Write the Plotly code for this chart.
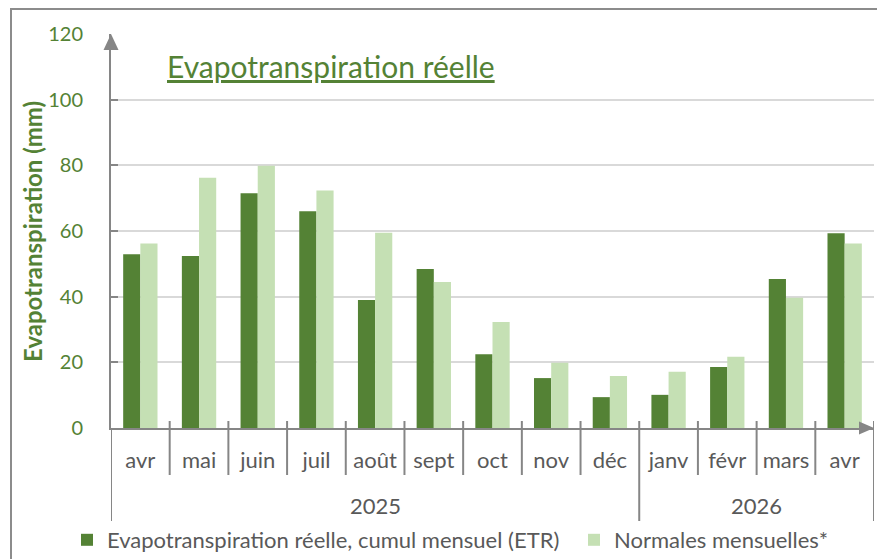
import plotly.graph_objects as go

months = ["avr", "mai", "juin", "juil", "août", "sept", "oct", "nov", "déc",
          "janv", "févr", "mars", "avr"]
years = ["2025"] * 9 + ["2026"] * 4
etr = [52.9, 52.4, 71.5, 66.0, 39.0, 48.4, 22.5, 15.2, 9.4, 10.1, 18.6, 45.4, 59.3]
normales = [56.2, 76.2, 79.9, 72.3, 59.5, 44.5, 32.3, 19.9, 15.8, 17.1, 21.7, 39.7, 56.2]
y_ticks = [0, 20, 40, 60, 80, 100, 120]

GREEN = "#548235"
LIGHT = "#c5e0b4"
GREY = "#868686"
TXT = "#595959"
FONT = "Lato"

OFF = 8  # default page body margin
W, H = 885 - OFF, 559 - OFF
PL, PR, PT, PB = 111, 874, 34, 428  # plot area in screen pixels
ML, MR, MT, MB = PL - OFF, 885 - PR, PT - OFF, 559 - PB
PW, PH = PR - PL, PB - PT

def px_x(p):  # screen pixel -> paper x
    return (p - PL) / PW

def px_y(p):  # screen pixel -> paper y
    return (PB - p) / PH

x = list(range(len(months)))

fig = go.Figure()
fig.add_trace(go.Bar(x=x, y=etr, name="Evapotranspiration réelle, cumul mensuel (ETR)",
                     marker=dict(color=GREEN, line=dict(width=0)), legend="legend"))
fig.add_trace(go.Bar(x=x, y=normales, name="Normales mensuelles*",
                     marker=dict(color=LIGHT, line=dict(width=0)), legend="legend2"))

shapes = []
# month dividers
for k in range(1, len(months)):
    if years[k] != years[k - 1]:
        continue
    shapes.append(dict(type="line", xref="x", yref="paper", x0=k - 0.5, x1=k - 0.5,
                       y0=px_y(421), y1=px_y(475), line=dict(color=GREY, width=2)))
# year dividers
bounds = [-0.5] + [k - 0.5 for k in range(1, len(months)) if years[k] != years[k - 1]] + [len(months) - 0.5]
for b in bounds:
    shapes.append(dict(type="line", xref="x", yref="paper", x0=b, x1=b,
                       y0=px_y(421) if b > -0.5 else 0, y1=px_y(521),
                       line=dict(color=GREY, width=2)))
# axis arrows
shapes.append(dict(type="path", xref="paper", yref="paper",
                   path=f"M 0 1 L {-7.5/PW} {1-16/PH} L {7.5/PW} {1-16/PH} Z",
                   fillcolor=GREY, line=dict(width=0)))
shapes.append(dict(type="path", xref="paper", yref="paper",
                   path=f"M 1 0 L {1-15/PW} {6.5/PH} L {1-15/PW} {-6.5/PH} Z",
                   fillcolor=GREY, line=dict(width=0)))
# outer frame
shapes.append(dict(type="rect", xref="paper", yref="paper",
                   x0=px_x(11), x1=px_x(905), y0=px_y(9), y1=px_y(580),
                   line=dict(color="#8c8c8c", width=2), fillcolor="rgba(0,0,0,0)"))

annotations = []
# year labels
for yr in sorted(set(years)):
    idx = [i for i, v in enumerate(years) if v == yr]
    annotations.append(dict(x=sum(idx) / len(idx), y=px_y(505), xref="x", yref="paper",
                            text=yr, showarrow=False, xanchor="center", yanchor="middle",
                            font=dict(family=FONT, size=22, color=TXT)))
annotations.append(dict(x=px_x(165), y=px_y(66), xref="paper", yref="paper",
                        text="<u>Evapotranspiration réelle</u>", showarrow=False,
                        xanchor="left", yanchor="middle",
                        font=dict(family=FONT, size=30, color=GREEN)))
annotations.append(dict(x=px_x(32), y=px_y(232), xref="paper", yref="paper",
                        text="<b>Evapotranspiration (mm)</b>", showarrow=False,
                        textangle=-90, xanchor="center", yanchor="middle",
                        font=dict(family=FONT, size=24, color=GREEN)))

legend_common = dict(orientation="h", xanchor="left", yanchor="middle",
                     font=dict(family=FONT, size=22, color=TXT),
                     bgcolor="rgba(0,0,0,0)", itemclick=False, itemdoubleclick=False)

fig.update_layout(
    width=W, height=H,
    margin=dict(l=ML, r=MR, t=MT, b=MB, autoexpand=False),
    paper_bgcolor="white", plot_bgcolor="white",
    barmode="group", bargap=0.415, bargroupgap=0,
    showlegend=True,
    legend=dict(x=px_x(67), y=px_y(540), **legend_common),
    legend2=dict(x=px_x(574), y=px_y(540), **legend_common),
    shapes=shapes, annotations=annotations,
    font=dict(family=FONT),
)
fig.update_xaxes(range=[-0.5, len(months) - 0.5], tickvals=x, ticktext=months,
                 showline=True, linecolor=GREY, linewidth=2, ticks="", showgrid=False,
                 zeroline=False, tickfont=dict(family=FONT, size=22, color=TXT),
                 ticklabelstandoff=12, fixedrange=True)
fig.update_yaxes(range=[0, 120], tickvals=y_ticks, showline=True, linecolor=GREY, linewidth=2,
                 ticks="inside", ticklen=7, tickcolor=GREY, tickwidth=2,
                 gridcolor="#d9d9d9", gridwidth=1.5, zeroline=False,
                 tickfont=dict(family=FONT, size=20, color=GREEN),
                 ticklabelstandoff=22, fixedrange=True)

fig.write_html("out.html")
